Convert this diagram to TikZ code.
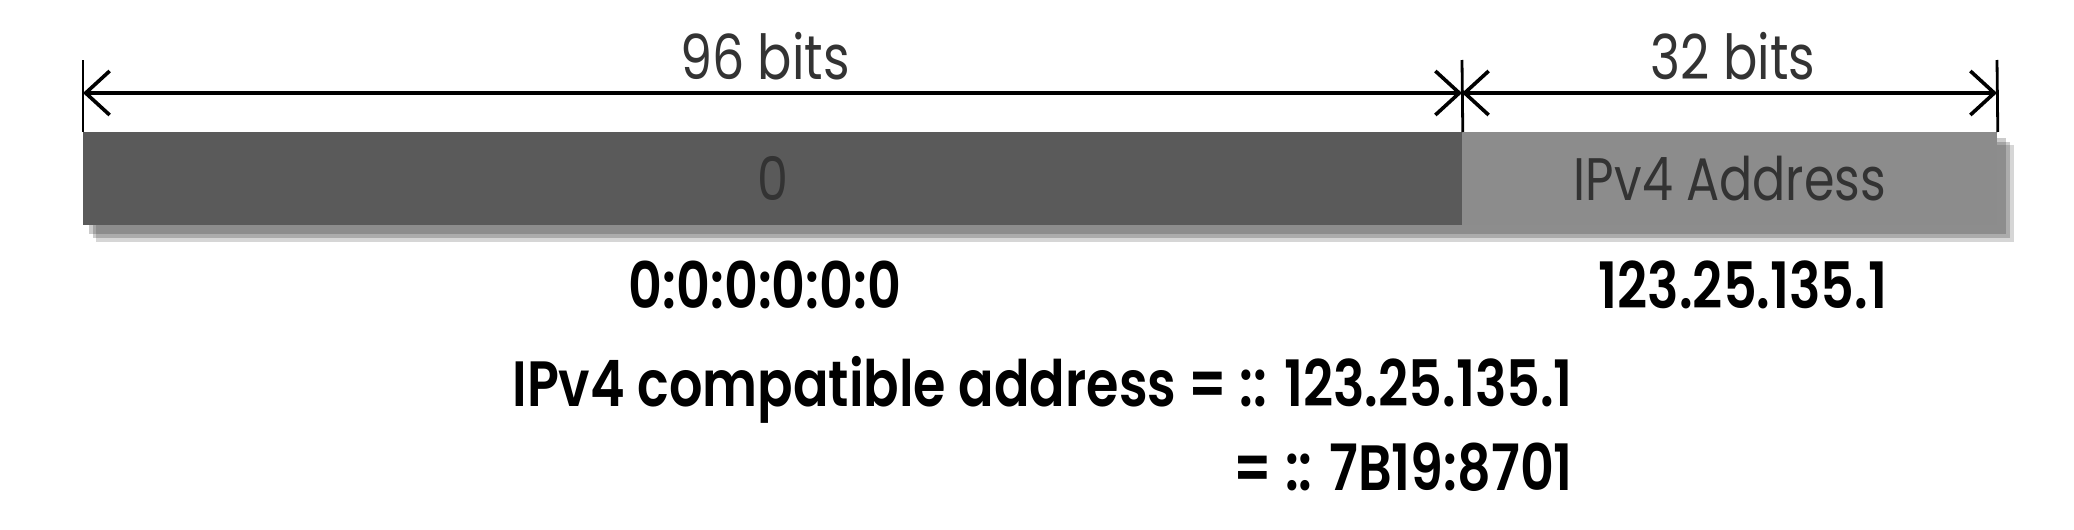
\documentclass[tikz,border=0pt]{standalone}
\usepackage{fontspec}
\setmainfont{Poppins}[FakeStretch=0.82,BoldFont={Poppins SemiBold}]
\usetikzlibrary{arrows.meta,backgrounds}
\definecolor{zerogray}{HTML}{5A5A5A}
\definecolor{addrgray}{HTML}{8C8C8C}
\definecolor{shadowgray}{HTML}{303030}

\begin{document}
\begin{tikzpicture}[x=0.5pt,y=-0.5pt,
    seg/.style={anchor=north west,minimum height=46.5pt,inner sep=0pt,text=black!80,font=\fontsize{30}{34}\selectfont},
    dimline/.style={{Straight Barb[length=12pt,width=22pt]}-{Straight Barb[length=12pt,width=22pt]},line width=1.8pt},
    tick/.style={line width=1.4pt},
    bits/.style={text=black!80,font=\fontsize{31}{36}\selectfont},
    value/.style={font=\fontsize{32}{38}\selectfont\bfseries}]
    \useasboundingbox (0,0) rectangle (2074,530);

    \node[seg,fill=zerogray,minimum width=689.5pt] (zero) at (83,132) {0};
    \node[seg,fill=addrgray,minimum width=267.5pt] (ipv) at (1462,132) {IPv4 Address};
    \begin{scope}[on background layer]
        \fill[shadowgray,opacity=.25] ([shift={(6,6)}]zero.north west) rectangle ([shift={(8,8)}]ipv.south east);
        \fill[shadowgray,opacity=.25] ([shift={(10,10)}]zero.north west) rectangle ([shift={(12,12)}]ipv.south east);
        \fill[shadowgray,opacity=.2] ([shift={(13,13)}]zero.north west) rectangle ([shift={(16,16)}]ipv.south east);
    \end{scope}

    \coordinate (tickA) at (83,60);
    \coordinate (tickB) at (1462,60);
    \coordinate (tickC) at (1997,60);
    \coordinate (endA) at (83,93);
    \coordinate (endB) at (1462,93);
    \coordinate (endC) at (1997,93);

    \draw[tick] (tickA) -- (zero.north west);
    \draw[tick] (tickB) -- (zero.north east);
    \draw[tick] (tickC) -- (ipv.north east);
    \draw[dimline] (endA) -- (endB);
    \draw[dimline] (endB) -- (endC);

    \node[bits] (bitsA) at (765,56) {96 bits};
    \node[bits] (bitsB) at (1733,56) {32 bits};

    \node[value] (zeros) at (765,285) {0:0:0:0:0:0};
    \node[value] (dotted) at (1743,285) {123.25.135.1};
    \node[value,anchor=east] (compat) at (1580,390) {IPv4 compatible address = :: 123.25.135.1};
    \node[value,anchor=east] (hex) at (1580,467) {= :: 7B19:8701};
\end{tikzpicture}
\end{document}
